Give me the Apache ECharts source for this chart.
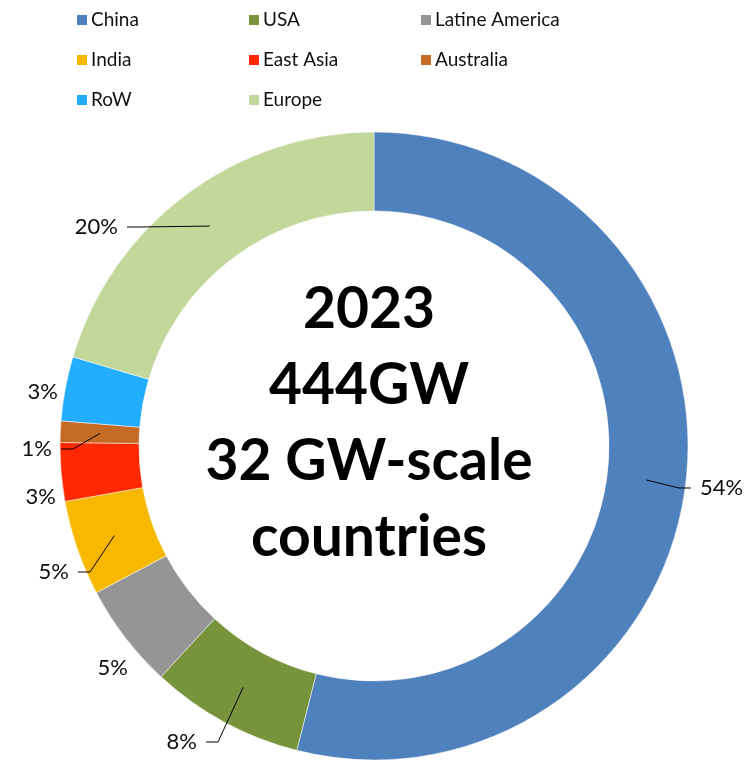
<!DOCTYPE html>
<html>
<head>
<meta charset="utf-8">
<script src="https://cdn.jsdelivr.net/npm/echarts@6/dist/echarts.min.js"></script>
<style>
html,body{margin:0;padding:0;background:#fff;}
#chart{width:756px;height:772px;}
</style>
</head>
<body>
<div id="chart"></div>
<script>
var categories = ['China', 'USA', 'Latine America', 'India', 'East Asia', 'Australia', 'RoW', 'Europe'];
var shares = [53.9, 7.9, 5.4, 4.9, 3.0, 1.1, 3.3, 20.4];
var colors = ['#4F81BD', '#77933C', '#959595', '#F8B800', '#FF2800', '#C56A24', '#22ADFF', '#C4D79B'];
var legendColumns = [
  ['China', 'India', 'RoW'],
  ['USA', 'East Asia', 'Europe'],
  ['Latine America', 'Australia']
];
var centerLines = ['2023', '444GW', '32 GW-scale', 'countries'];

// label placement (layout only): offset of label anchor from pie centre, side, leader line on/off
var labelSpots = [
  {dx: 326, dy: 42, side: 'left', line: true},
  {dx: -177, dy: 296, side: 'right', line: true},
  {dx: -246, dy: 222, side: 'right', line: false},
  {dx: -305, dy: 126, side: 'right', line: true},
  {dx: -318, dy: 51, side: 'right', line: false},
  {dx: -322, dy: 3, side: 'right', line: true},
  {dx: -316, dy: -54, side: 'right', line: false},
  {dx: -256, dy: -219, side: 'right', line: true}
];

var CX = 374, CY = 446, R0 = 235, R1 = 314;

var chart = echarts.init(document.getElementById('chart'), null, {renderer: 'canvas'});

var fontFamily = 'Lato, "Noto Sans", sans-serif';
var legendLefts = [70, 242, 414];
var legends = legendColumns.map(function (col, i) {
  return {
    orient: 'vertical',
    left: legendLefts[i],
    top: 5,
    data: col,
    icon: 'rect',
    itemWidth: 12,
    itemHeight: 12,
    itemGap: 20,
    selectedMode: false,
    textStyle: {fontFamily: fontFamily, fontSize: 19, color: '#111', lineHeight: 20, padding: [0, 0, 0, -2]}
  };
});

var total = shares.reduce(function (a, b) { return a + b; }, 0);
var midAngles = [];
(function () {
  var cum = 0;
  shares.forEach(function (v) {
    midAngles.push((cum + v / 2) / total * 2 * Math.PI);
    cum += v;
  });
})();

// leader lines: from the middle of the ring at the slice's mid-angle to beside its label
var leaderLines = [];
labelSpots.forEach(function (s, i) {
  if (!s.line) return;
  var a = midAngles[i];
  var rm = (R0 + R1) / 2;
  var lx = CX + s.dx, ly = CY + s.dy;
  var dir = s.side === 'left' ? -1 : 1;
  var end = [lx + dir * 9, ly];
  var knee = [end[0] + dir * 12, ly];
  var start = [CX + rm * Math.sin(a), CY - rm * Math.cos(a)];
  leaderLines.push({
    type: 'polyline',
    z: 100,
    silent: true,
    shape: {points: [start, knee, end]},
    style: {stroke: '#000', lineWidth: 1, fill: null}
  });
});

var data = categories.map(function (c, i) {
  return {name: c, value: shares[i], itemStyle: {color: colors[i]}};
});

chart.setOption({
  animation: false,
  color: colors,
  legend: legends,
  graphic: [{
    type: 'text',
    x: 369,
    y: 424,
    style: {
      text: centerLines.join('\n'),
      fontFamily: fontFamily,
      fontWeight: 'bold',
      fontSize: 57,
      lineHeight: 76,
      fill: '#000',
      align: 'center',
      verticalAlign: 'middle'
    }
  }].concat(leaderLines),
  series: [{
    type: 'pie',
    center: [CX, CY],
    radius: [R0, R1],
    startAngle: 90,
    clockwise: true,
    avoidLabelOverlap: false,
    itemStyle: {borderColor: '#fff', borderWidth: 0.5},
    label: {
      show: true,
      position: 'outside',
      overflow: 'none',
      fontFamily: fontFamily,
      fontSize: 22,
      color: '#0d0d0d',
      formatter: function (p) { return Math.round(p.percent) + '%'; }
    },
    labelLine: {show: false},
    labelLayout: function (p) {
      var s = labelSpots[p.dataIndex];
      return {x: CX + s.dx, y: CY + s.dy, align: s.side, verticalAlign: 'middle'};
    },
    emphasis: {disabled: true},
    data: data
  }]
});
</script>
</body>
</html>
